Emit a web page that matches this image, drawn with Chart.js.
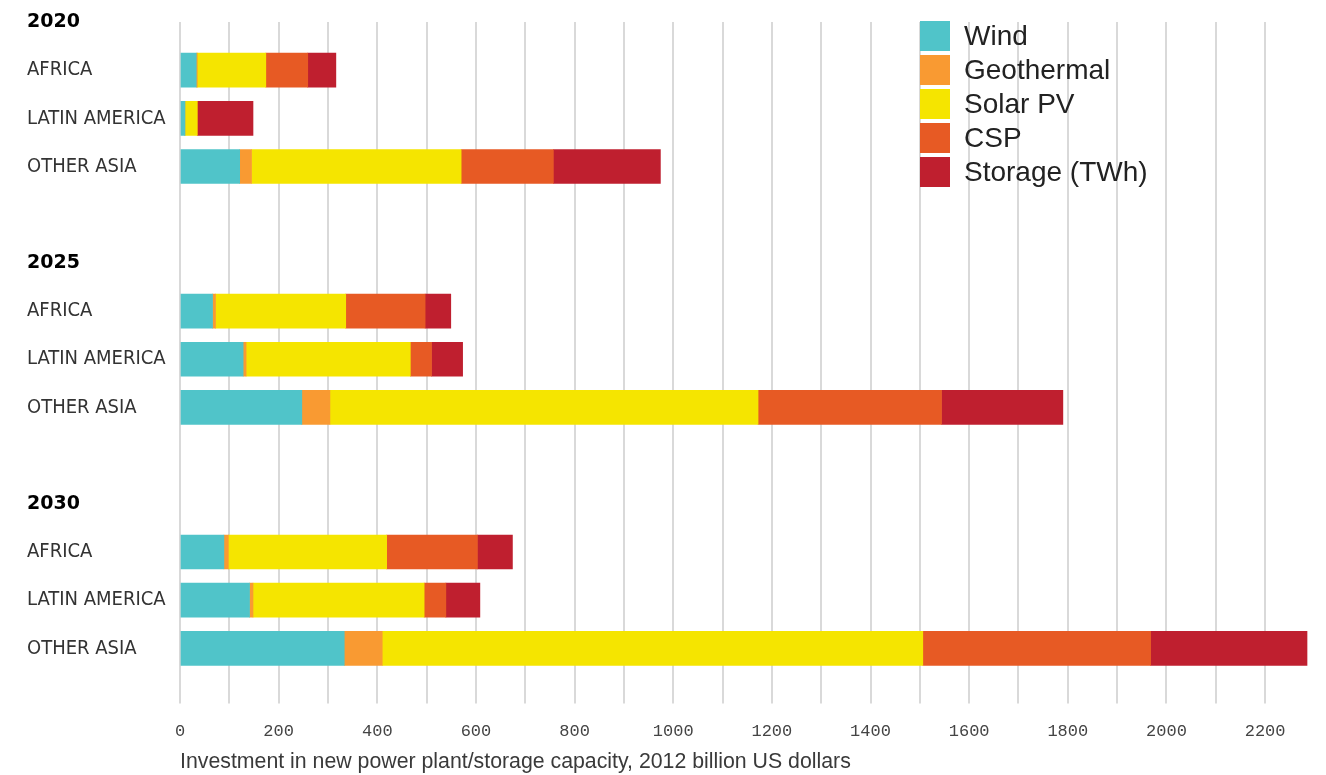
<!DOCTYPE html>
<html>
<head>
<meta charset="utf-8">
<script src="https://cdn.jsdelivr.net/npm/chart.js@4.4.1/dist/chart.umd.min.js"></script>
<style>
    html, body { margin: 0; padding: 0; background: #fff; }
    #wrap { position: relative; width: 1326px; height: 775px; }
    #legend { position: absolute; left: 920px; top: 21px; font-family: 'Liberation Sans', Arial, sans-serif; }
    .item { display: flex; align-items: center; height: 30px; margin-bottom: 4px; }
    .swatch { width: 30px; height: 30px; margin-right: 14px; }
    .item span { font-size: 28px; color: #222; }
</style>
</head>
<body>
<div id="wrap">
    <canvas id="investChart" width="1326" height="775"></canvas>
    <div id="legend"></div>
</div>
<script>
// Rows of the chart (year headers, regions, spacer rows)
const rowLabels = ['2020', 'AFRICA', 'LATIN AMERICA', 'OTHER ASIA', '',
                   '2025', 'AFRICA', 'LATIN AMERICA', 'OTHER ASIA', '',
                   '2030', 'AFRICA', 'LATIN AMERICA', 'OTHER ASIA', ''];
const yearHeaders = ['2020', '2025', '2030'];

// Investment, 2012 billion US dollars (null = header / spacer row)
const wind       = [null, 33, 10, 121, null, null, 66, 128, 247, null, null, 89, 141, 333, null];
const geothermal = [null, 2, 0, 24, null, null, 6, 6, 57, null, null, 9, 7, 77, null];
const solarPV    = [null, 139, 25, 425, null, null, 264, 333, 868, null, null, 321, 347, 1096, null];
const csp        = [null, 85, 0, 187, null, null, 161, 43, 372, null, null, 184, 44, 462, null];
const storage    = [null, 57, 113, 217, null, null, 52, 63, 246, null, null, 71, 69, 317, null];

const seriesNames = ['Wind', 'Geothermal', 'Solar PV', 'CSP', 'Storage (TWh)'];
const seriesColors = ['#50c4c9', '#f99a32', '#f5e500', '#e75a24', '#bf1f2f'];
const seriesData = [wind, geothermal, solarPV, csp, storage];

// x axis ticks every 100, labels every 200
const xMax = 2287;
const xStep = 100;
const xLabelEvery = 200;
const xTitle = 'Investment in new power plant/storage capacity, 2012 billion US dollars';

function buildLegend() {
    const legend = document.getElementById('legend');
    seriesNames.forEach((name, i) => {
        const item = document.createElement('div');
        item.className = 'item';
        item.innerHTML = `<div class="swatch" style="background:${seriesColors[i]}"></div><span>${name}</span>`;
        legend.appendChild(item);
    });
}

// only whole hundreds get a grid line (hides the line at the axis max)
function gridColor(c) {
    return c.tick && c.tick.value % xStep === 0 ? '#d9d9d9' : 'rgba(0,0,0,0)';
}

function drawChart() {
    const ctx = document.getElementById('investChart').getContext('2d');

    new Chart(ctx, {
        type: 'bar',
        data: {
            labels: rowLabels,
            datasets: seriesData.map((data, i) => ({
                label: seriesNames[i],
                data: data,
                backgroundColor: seriesColors[i],
                borderWidth: 0,
                barThickness: 34
            }))
        },
        options: {
            indexAxis: 'y',
            responsive: false,
            animation: false,
            layout: { padding: { left: 27, right: 16, top: 22, bottom: 0 } },
            plugins: {
                legend: { display: false },
                tooltip: { enabled: false }
            },
            scales: {
                x: {
                    stacked: true,
                    min: 0,
                    max: xMax,
                    bounds: 'data',
                    border: { display: false },
                    grid: { color: gridColor, tickColor: gridColor, lineWidth: 2, drawTicks: true, tickLength: 7 },
                    ticks: {
                        stepSize: xStep,
                        includeBounds: false,
                        autoSkip: false,
                        maxRotation: 0,
                        padding: 18,
                        color: '#444',
                        font: { family: "'Liberation Mono', 'DejaVu Sans Mono', monospace", size: 17 },
                        callback: value => (value % xLabelEvery === 0 ? value : '')
                    },
                    title: {
                        display: true,
                        text: xTitle,
                        align: 'start',
                        color: '#3a3a3a',
                        padding: { top: 0, bottom: 0 },
                        font: { family: "'Liberation Sans', Arial, sans-serif", size: 21.3 }
                    },
                    afterFit: scale => { scale.height = 78.5; }
                },
                y: {
                    stacked: true,
                    offset: false,
                    border: { display: false },
                    grid: { display: false },
                    ticks: {
                        autoSkip: false,
                        crossAlign: 'far',
                        color: c => (yearHeaders.includes(c.tick.label) ? '#000' : '#333'),
                        font: c => (yearHeaders.includes(c.tick.label)
                            ? { family: "'DejaVu Sans', sans-serif", size: 19, weight: 'bold' }
                            : { family: "'Liberation Sans Narrow', 'DejaVu Sans Condensed', 'Liberation Sans', sans-serif", size: 20 })
                    },
                    afterFit: scale => { scale.width = 153; }
                }
            }
        }
    });
}

buildLegend();
drawChart();
</script>
</body>
</html>
